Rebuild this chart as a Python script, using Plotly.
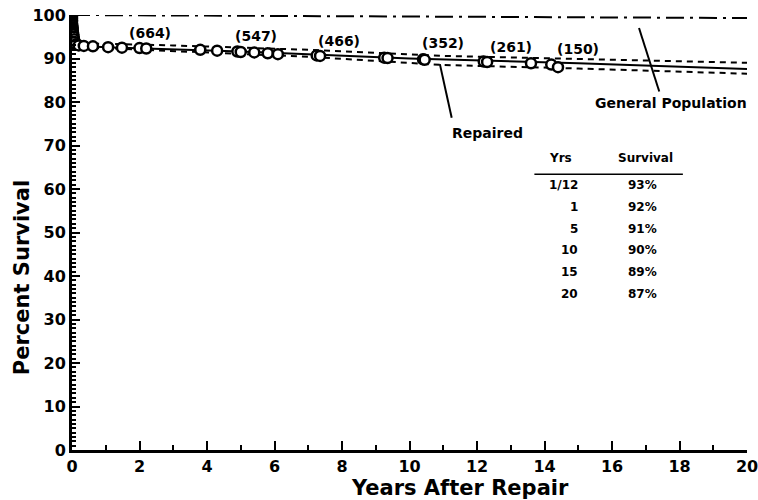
import plotly.graph_objects as go

# Kaplan-Meier points (open circles)
km_years = [0.0, 0.0, 0.0, 0.0, 0.0, 0.0, 0.01, 0.01, 0.02, 0.02, 0.03, 0.04, 0.05, 0.06, 0.08,
            0.12, 0.2, 0.35, 0.62, 1.07, 1.48, 2.0, 2.2, 3.8, 4.3, 4.9, 5.0, 5.4, 5.8, 6.1,
            7.25, 7.35, 9.25, 9.35, 10.4, 10.45, 12.2, 12.3, 13.6, 14.2, 14.4]
km_survival = [100.0, 99.6, 99.2, 98.8, 98.4, 98.0, 97.6, 97.2, 96.8, 96.4, 96.0, 95.5, 95.0, 94.4, 93.8,
               93.3, 93.0, 92.9, 92.8, 92.6, 92.5, 92.4, 92.3, 92.0, 91.8, 91.6, 91.5, 91.4, 91.2, 91.0,
               90.7, 90.6, 90.2, 90.1, 89.8, 89.7, 89.3, 89.2, 88.9, 88.6, 88.0]

# Parametric fit and confidence limits
fit_years = [0, 0.083, 1, 5, 10, 15, 20]
fit_survival = [100.0, 93.0, 92.6, 91.6, 90.0, 88.9, 87.6]
ci_years = [0.3, 3, 7, 11, 15, 20]
ci_upper = [93.5, 93.0, 92.0, 90.6, 89.9, 89.0]
ci_lower = [92.6, 91.7, 90.4, 88.5, 87.7, 86.5]

# General population
gen_years = [0, 20]
gen_survival = [100.0, 99.3]

# Numbers at risk
risk_years = [2.3, 5.45, 7.9, 11.0, 13.0, 15.0]
risk_level = [95.9, 95.2, 94.0, 93.6, 92.6, 92.2]
risk_n = [664, 547, 466, 352, 261, 150]

# Table
table_yrs = ["1/12", "1", "5", "10", "15", "20"]
table_surv = ["93%", "92%", "91%", "90%", "89%", "87%"]

FONT = "DejaVu Sans, Liberation Sans, Arial, sans-serif"

fig = go.Figure()

fig.add_trace(go.Scatter(x=gen_years, y=gen_survival, mode="lines",
                         line=dict(color="black", width=2, dash="18px,6px,3px,6px"), showlegend=False))
fig.add_trace(go.Scatter(x=ci_years, y=ci_upper, mode="lines",
                         line=dict(color="black", width=2, dash="6px,5px"), showlegend=False))
fig.add_trace(go.Scatter(x=ci_years, y=ci_lower, mode="lines",
                         line=dict(color="black", width=2, dash="6px,5px"), showlegend=False))
fig.add_trace(go.Scatter(x=fit_years, y=fit_survival, mode="lines",
                         line=dict(color="black", width=2), showlegend=False))
fig.add_trace(go.Scatter(x=km_years, y=km_survival, mode="markers",
                         marker=dict(symbol="circle", size=10, color="white",
                                     line=dict(color="black", width=2.5)),
                         showlegend=False))

bold = lambda s: dict(family=FONT, size=s, color="black", weight="bold")

annotations = []
for x, y, n in zip(risk_years, risk_level, risk_n):
    annotations.append(dict(x=x, y=y, text=f"({n})", showarrow=False, font=bold(14)))

annotations.append(dict(x=12.3, y=72.9, text="Repaired", showarrow=False, font=bold(14)))
annotations.append(dict(x=17.75, y=79.8, text="General Population", showarrow=False, font=bold(14)))

annotations.append(dict(x=14.46, y=67.1, text="Yrs", showarrow=False, font=bold(12)))
annotations.append(dict(x=16.98, y=67.1, text="Survival", showarrow=False, font=bold(12)))
for i, (yr, sv) in enumerate(zip(table_yrs, table_surv)):
    ypos = 60.9 - 5.0 * i
    annotations.append(dict(x=15.05, y=ypos, text=yr, showarrow=False, xanchor="right", font=bold(12)))
    annotations.append(dict(x=16.42, y=ypos, text=sv, showarrow=False, xanchor="left", font=bold(12)))

# axis titles
annotations.append(dict(x=0.575, y=0, xref="paper", yref="paper", text="Years After Repair",
                        showarrow=False, yanchor="middle", yshift=-38, font=bold(21)))
annotations.append(dict(x=0, y=0.395, xref="paper", yref="paper", text="Percent Survival",
                        showarrow=False, xanchor="center", textangle=-90, xshift=-50, font=bold(21)))

shapes = [
    dict(type="line", x0=10.9, y0=88.7, x1=11.25, y1=76.4, line=dict(color="black", width=2)),
    dict(type="line", x0=16.8, y0=97.0, x1=17.4, y1=82.4, line=dict(color="black", width=2)),
    dict(type="line", x0=13.7, y0=63.4, x1=18.1, y1=63.4, line=dict(color="black", width=1.5)),
]

fig.update_layout(
    width=758, height=500,
    margin=dict(l=72, r=11, t=15, b=50),
    paper_bgcolor="white", plot_bgcolor="white",
    font=dict(family=FONT, color="black"),
    annotations=annotations,
    shapes=shapes,
    xaxis=dict(
        range=[0, 20], dtick=2, showgrid=False, zeroline=False, automargin=False,
        showline=True, linecolor="black", linewidth=3, ticklabeloverflow="allow",
        ticks="inside", ticklen=9, tickwidth=2, tickcolor="black",
        minor=dict(ticks="inside", dtick=1, ticklen=5, tickwidth=2, tickcolor="black"),
        tickfont=bold(16),
    ),
    yaxis=dict(
        range=[0, 100], dtick=10, showgrid=False, zeroline=False, automargin=False,
        showline=True, linecolor="black", linewidth=3, ticklabeloverflow="allow",
        ticks="inside", ticklen=8, tickwidth=2, tickcolor="black",
        minor=dict(ticks="inside", dtick=1, ticklen=4, tickwidth=1.5, tickcolor="black"),
        tickfont=bold(16),
    ),
)

# drop the default body margin so the figure fills the window
fig.write_html("out.html", config={"displayModeBar": False},
               post_script="document.body.style.margin='0';")
